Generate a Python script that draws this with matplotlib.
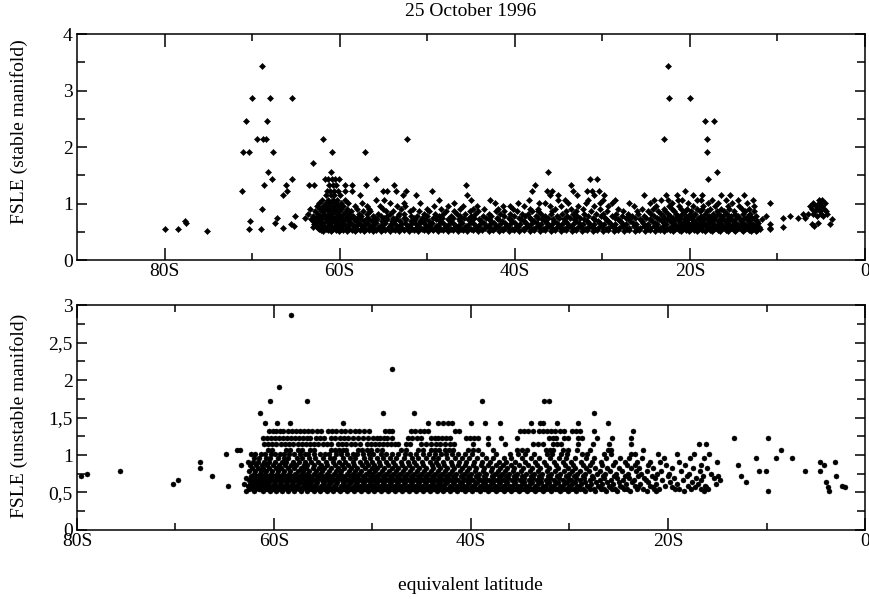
import matplotlib
matplotlib.use("Agg")
import matplotlib.pyplot as plt
from matplotlib.ticker import FixedLocator, FuncFormatter
import numpy as np

plt.rcParams["font.family"] = ["Liberation Serif", "DejaVu Serif"]

# FSLE values are quantised, so each panel is stored as a list of levels and,
# for every level, the equivalent latitudes (deg, negative = south).

# --- top panel: stable manifold ---
stable_levels = [3.44, 2.87, 2.46, 2.15, 1.91, 1.72, 1.56, 1.43, 1.32, 1.23, 1.15, 1.07,
                 1.01, 0.96, 0.91, 0.86, 0.82, 0.78, 0.75, 0.72, 0.69, 0.66, 0.64, 0.61,
                 0.59, 0.57, 0.55, 0.54, 0.52]
stable_lats = [
    [-68.9, -22.5],
    [-70.0, -68.0, -65.5, -22.4, -20.0],
    [-70.7, -68.3, -18.3, -17.2],
    [-69.4, -68.7, -68.4, -61.9, -52.3, -23.0, -18.0],
    [-71.0, -70.4, -67.6, -60.9, -57.1, -18.0],
    [-63.1],
    [-68.2, -61.0, -36.2, -16.9],
    [-67.7, -65.5, -61.7, -61.3, -60.9, -60.5, -60.1, -55.8, -31.4, -30.6, -17.9],
    [-68.6, -66.1, -63.5, -62.9, -61.2, -60.8, -60.4, -59.4, -58.6, -57.0, -53.8, -45.6,
     -37.7, -33.6],
    [-71.2, -66.0, -61.5, -61.1, -60.7, -60.2, -59.4, -58.6, -55.1, -54.6, -53.6, -52.4,
     -49.5, -38.0, -36.3, -35.7, -33.4, -31.8, -31.2, -30.4, -20.6],
    [-66.5, -61.6, -61.0, -60.6, -60.0, -57.7, -52.8, -51.3, -45.4, -36.0, -35.1, -32.9,
     -31.0, -29.8, -25.2, -22.7, -21.5, -19.7, -18.6, -16.4, -15.4, -13.8],
    [-62.0, -61.3, -60.8, -60.3, -59.4, -55.9, -54.9, -48.7, -45.0, -42.8, -38.4, -35.1,
     -34.3, -31.6, -29.9, -28.6, -24.1, -23.3, -22.5, -21.4, -20.9, -19.2, -18.7, -17.5,
     -15.9, -14.5, -12.8, -5.3, -4.9],
    [-62.4, -61.6, -61.1, -60.4, -59.8, -59.0, -57.4, -54.3, -52.6, -50.8, -46.9, -42.3,
     -39.6, -37.2, -36.6, -33.9, -31.9, -30.3, -28.9, -27.0, -24.6, -22.0, -20.2, -17.9,
     -16.8, -15.2, -13.5, -10.9, -5.9, -5.2, -4.6],
    [-62.6, -61.9, -61.4, -60.8, -60.2, -59.6, -58.3, -56.9, -55.4, -53.4, -52.5, -49.2,
     -47.6, -45.9, -44.3, -41.4, -40.6, -38.9, -36.0, -34.7, -32.8, -30.9, -29.4, -26.4,
     -23.9, -22.4, -21.2, -19.6, -18.5, -17.1, -15.7, -14.4, -12.7, -6.3, -5.6, -4.9],
    [-68.9, -63.4, -62.2, -61.7, -61.1, -60.5, -59.9, -59.2, -58.0, -56.6, -55.0, -53.0,
     -51.6, -50.0, -48.4, -46.3, -44.8, -43.5, -41.9, -40.2, -38.3, -37.4, -35.4, -33.6,
     -32.2, -30.3, -28.2, -25.5, -24.2, -23.0, -22.1, -21.0, -20.3, -19.2, -18.6, -17.7,
     -16.4, -15.5, -14.1, -13.2, -6.0, -5.3, -4.7],
    [-62.8, -62.0, -61.3, -60.7, -60.1, -59.3, -58.7, -57.3, -56.5, -54.7, -53.9, -52.0,
     -50.9, -49.8, -47.8, -46.9, -45.1, -44.2, -42.2, -41.2, -39.7, -38.0, -37.3, -35.8,
     -34.2, -33.0, -31.3, -29.5, -27.6, -26.0, -24.8, -23.6, -22.8, -21.8, -20.6, -19.9,
     -18.9, -18.1, -16.9, -16.1, -15.0, -13.7, -12.7, -5.7, -5.1, -4.5],
    [-63.6, -62.5, -61.8, -61.0, -60.3, -59.6, -58.9, -57.8, -56.9, -55.6, -54.2, -53.2,
     -52.6, -50.4, -49.1, -48.2, -46.6, -45.7, -44.5, -43.0, -41.7, -40.6, -39.2, -38.5,
     -37.0, -35.9, -34.6, -33.3, -32.1, -30.7, -29.9, -28.4, -27.1, -25.9, -24.4, -23.3,
     -22.5, -21.6, -20.9, -20.0, -19.4, -18.3, -17.4, -16.7, -15.8, -14.8, -13.9, -13.1,
     -7.1, -6.5, -5.9, -5.0, -4.3],
    [-65.1, -63.0, -62.3, -61.5, -60.9, -60.0, -59.2, -58.5, -57.6, -56.2, -55.3, -54.6,
     -53.3, -51.9, -51.2, -50.0, -48.6, -47.3, -46.2, -45.0, -43.6, -42.7, -41.2, -40.1,
     -38.8, -37.6, -36.6, -35.2, -34.0, -32.9, -31.6, -30.1, -28.9, -27.8, -26.6, -25.2,
     -24.1, -23.1, -22.3, -21.4, -20.4, -19.6, -18.7, -17.8, -17.0, -16.2, -15.3, -14.5,
     -13.4, -12.4, -11.3, -8.6, -5.5, -4.8],
    [-67.1, -64.0, -62.7, -62.0, -61.2, -60.5, -59.7, -58.8, -58.0, -56.9, -56.0, -54.9,
     -53.9, -52.7, -51.5, -50.6, -49.3, -48.3, -47.0, -45.8, -44.7, -43.3, -42.0, -40.7,
     -39.5, -38.3, -37.3, -36.2, -35.0, -33.7, -32.5, -31.1, -29.7, -28.6, -27.3, -26.3,
     -25.0, -23.8, -22.9, -21.9, -21.1, -20.1, -19.1, -18.4, -17.5, -16.5, -15.6, -14.7,
     -13.8, -12.9, -9.4, -7.7, -6.8],
    [-63.3, -62.4, -61.6, -60.9, -60.2, -59.4, -58.4, -57.6, -56.6, -55.7, -54.6, -53.6,
     -52.4, -51.4, -50.2, -49.0, -47.6, -46.4, -45.3, -44.1, -42.9, -41.9, -40.5, -39.3,
     -38.1, -36.9, -35.6, -34.4, -33.2, -32.1, -30.9, -29.6, -28.2, -27.0, -25.7, -24.6,
     -23.5, -22.6, -21.7, -20.7, -19.8, -19.0, -18.1, -17.2, -16.3, -15.4, -14.3, -13.5,
     -12.6, -11.8, -3.8],
    [-77.7, -70.2, -63.1, -62.2, -61.4, -60.6, -59.9, -59.0, -58.1, -57.2, -56.3, -55.2,
     -54.0, -53.1, -51.9, -50.8, -49.8, -48.5, -47.4, -46.2, -45.0, -43.9, -42.7, -41.5,
     -40.3, -39.0, -37.8, -36.6, -35.5, -34.3, -33.0, -31.8, -30.5, -29.3, -28.0, -26.8,
     -25.5, -24.3, -23.2, -22.3, -21.3, -20.5, -19.5, -18.6, -17.7, -16.8, -16.0, -15.1,
     -14.2, -13.2, -12.3],
    [-77.5, -67.4, -62.6, -61.9, -61.1, -60.3, -59.6, -58.7, -57.8, -56.9, -55.9, -54.8,
     -53.8, -52.5, -51.4, -50.4, -49.4, -48.2, -47.1, -46.0, -44.8, -43.5, -42.4, -41.1,
     -40.0, -38.7, -37.5, -36.3, -35.2, -34.0, -32.7, -31.5, -30.3, -29.1, -27.8, -26.5,
     -25.3, -24.0, -22.9, -21.9, -21.0, -20.2, -19.3, -18.4, -17.5, -16.6, -15.8, -14.9,
     -14.0, -13.1, -12.2, -5.4],
    [-65.6, -62.9, -62.1, -61.2, -60.4, -59.7, -58.9, -57.9, -57.1, -56.1, -55.1, -54.1,
     -53.0, -51.9, -50.9, -49.7, -48.6, -47.5, -46.3, -45.2, -44.0, -42.8, -41.7, -40.6,
     -39.4, -38.2, -37.0, -35.8, -34.6, -33.4, -32.2, -31.0, -29.8, -28.5, -27.3, -26.1,
     -24.8, -23.7, -22.7, -21.7, -20.8, -19.9, -19.0, -18.1, -17.3, -16.4, -15.5, -14.6,
     -13.7, -12.8, -10.9, -6.1, -4.0],
    [-65.2, -62.7, -61.8, -61.0, -60.2, -59.3, -58.4, -57.5, -56.5, -55.4, -54.3, -53.4,
     -52.2, -51.1, -50.1, -49.0, -47.9, -46.7, -45.6, -44.4, -43.3, -42.1, -41.0, -39.8,
     -38.6, -37.4, -36.2, -35.0, -33.8, -32.6, -31.4, -30.2, -28.9, -27.7, -26.4, -25.2,
     -24.1, -23.1, -22.1, -21.2, -20.3, -19.4, -18.6, -17.8, -16.9, -16.0, -15.2, -14.3,
     -13.3, -12.4, -5.8],
    [-63.0, -62.2, -61.5, -60.7, -59.9, -59.1, -58.2, -57.3, -56.3, -55.2, -54.2, -53.1,
     -52.0, -50.9, -49.8, -48.8, -47.7, -46.5, -45.4, -44.2, -43.0, -41.9, -40.8, -39.6,
     -38.4, -37.2, -36.0, -34.8, -33.6, -32.4, -31.2, -30.0, -28.7, -27.5, -26.2, -25.0,
     -23.9, -22.9, -21.9, -21.0, -20.0, -19.1, -18.2, -17.4, -16.5, -15.7, -14.8, -13.9,
     -13.0, -12.1, -9.4],
    [-66.5, -62.5, -61.7, -60.9, -60.0, -59.2, -58.3, -57.4, -56.5, -55.6, -54.5, -53.5,
     -52.3, -51.3, -50.2, -49.1, -48.0, -46.9, -45.8, -44.6, -43.4, -42.3, -41.1, -40.0,
     -38.8, -37.7, -36.5, -35.3, -34.1, -32.9, -31.7, -30.5, -29.3, -28.1, -26.9, -25.7,
     -24.5, -23.4, -22.4, -21.5, -20.6, -19.7, -18.8, -17.9, -17.0, -16.2, -15.3, -14.4,
     -13.5, -12.6, -10.8],
    [-80.0, -78.5, -70.4, -69.0, -62.4, -61.6, -60.8, -59.9, -58.9, -58.0, -57.0, -56.0,
     -55.0, -53.9, -52.8, -51.7, -50.6, -49.5, -48.4, -47.3, -46.1, -45.0, -43.8, -42.6,
     -41.5, -40.3, -39.1, -37.9, -36.8, -35.6, -34.4, -33.2, -32.0, -30.8, -29.6, -28.4,
     -27.2, -26.0, -24.8, -23.6, -22.6, -21.7, -20.8, -19.9, -19.0, -18.1, -17.2, -16.4,
     -15.5, -14.6, -13.7, -12.8, -12.0, -10.9],
    [-62.1, -61.3, -60.4, -59.6, -58.6, -57.7, -56.7, -55.8, -54.8, -53.7, -52.6, -51.5,
     -50.4, -49.3, -48.2, -47.1, -45.9, -44.8, -43.7, -42.5, -41.3, -40.1, -38.9, -37.8,
     -36.6, -35.4, -34.2, -33.0, -31.8, -30.6, -29.4, -28.2, -27.0, -25.8, -24.6, -23.4,
     -22.3, -21.3, -20.4, -19.5, -18.6, -17.7, -16.8, -15.9, -15.0, -14.1, -13.2, -12.3],
    [-75.2, -61.9, -61.0, -60.1, -59.2, -58.2, -57.2, -56.2, -55.3, -54.3, -53.2, -52.1,
     -51.0, -49.9, -48.8, -47.6, -46.5, -45.4, -44.2, -43.0, -41.8, -40.7, -39.5, -38.3,
     -37.1, -35.9, -34.7, -33.5, -32.3, -31.1, -29.9, -28.7, -27.5, -26.3, -25.1, -24.0,
     -22.9, -21.9, -21.0, -20.1, -19.2, -18.3, -17.5, -16.6, -15.7, -14.8, -13.9, -13.0,
     -12.4],
]

# --- bottom panel: unstable manifold ---
unstable_levels = [2.87, 2.15, 1.91, 1.72, 1.56, 1.43, 1.32, 1.23, 1.15, 1.07, 1.01, 0.96,
                   0.91, 0.86, 0.82, 0.78, 0.75, 0.72, 0.69, 0.66, 0.64, 0.61, 0.59, 0.57,
                   0.55, 0.54, 0.52]
unstable_lats = [
    [-58.3],
    [-48.0],
    [-59.5],
    [-60.4, -56.7, -38.9, -32.6, -32.1],
    [-61.4, -48.9, -45.8, -27.5],
    [-60.9, -59.7, -58.4, -53.0, -44.4, -43.4, -42.8, -42.3, -41.9, -40.0, -38.6, -37.1,
     -33.9, -33.0, -32.7, -31.3, -29.1, -26.1],
    [-60.5, -60.1, -59.8, -59.4, -59.1, -58.6, -58.2, -57.8, -57.4, -57.0, -56.5, -56.1,
     -55.6, -55.2, -54.5, -54.1, -53.7, -53.2, -52.8, -52.3, -51.8, -51.4, -50.9, -50.4,
     -48.7, -48.3, -48.0, -46.1, -45.7, -45.2, -44.8, -44.4, -41.6, -41.2, -35.0, -34.6,
     -34.2, -33.7, -33.1, -32.7, -32.3, -31.9, -31.5, -31.0, -30.6, -29.7, -29.3, -28.9,
     -27.5, -23.6],
    [-61.1, -60.7, -60.3, -59.9, -59.5, -59.1, -58.7, -58.3, -57.9, -57.5, -57.1, -56.7,
     -56.3, -55.7, -55.3, -54.9, -54.2, -53.8, -53.3, -52.9, -52.5, -52.0, -51.5, -51.0,
     -50.5, -49.9, -49.5, -49.2, -48.8, -48.5, -48.0, -46.4, -46.0, -45.5, -45.1, -44.1,
     -43.7, -43.3, -42.9, -42.5, -42.1, -40.5, -40.1, -39.7, -39.3, -38.3, -37.0, -35.3,
     -32.1, -31.7, -31.4, -30.6, -30.2, -29.1, -28.7, -27.2, -25.7, -23.8, -13.3, -9.8],
    [-61.0, -60.6, -60.2, -59.8, -59.3, -58.9, -58.5, -58.1, -57.6, -57.2, -56.8, -56.3,
     -55.9, -55.5, -55.0, -54.6, -54.2, -53.5, -53.1, -52.7, -52.2, -51.8, -51.3, -50.6,
     -50.2, -49.7, -49.3, -48.9, -48.5, -48.1, -47.7, -47.4, -46.6, -46.2, -45.1, -44.6,
     -44.1, -43.6, -43.1, -42.6, -42.1, -41.7, -39.8, -38.3, -36.5, -33.7, -33.2, -32.7,
     -31.7, -31.3, -30.9, -29.1, -27.6, -26.0, -23.8, -16.9, -16.1],
    [-63.8, -63.5, -60.6, -60.2, -58.8, -58.4, -57.6, -57.2, -56.3, -55.9, -54.2, -53.8,
     -53.4, -53.0, -52.7, -51.5, -51.1, -50.6, -50.2, -49.5, -49.0, -47.1, -46.6, -45.4,
     -44.9, -44.1, -43.7, -43.2, -42.6, -42.2, -41.8, -40.3, -39.8, -39.3, -37.8, -35.3,
     -34.8, -34.3, -32.4, -32.0, -31.7, -30.7, -30.2, -29.2, -27.9, -26.1, -25.8, -22.5,
     -8.5],
    [-64.9, -62.3, -61.9, -61.3, -60.9, -60.3, -59.9, -59.4, -59.0, -58.5, -58.0, -57.4,
     -56.9, -56.5, -55.9, -55.3, -54.8, -54.4, -53.7, -53.2, -52.6, -52.0, -51.6, -51.0,
     -50.4, -49.9, -49.1, -48.6, -48.0, -47.4, -46.7, -46.2, -45.6, -44.9, -44.3, -43.7,
     -43.0, -42.5, -41.9, -41.3, -40.6, -39.9, -38.9, -37.5, -36.0, -35.2, -34.5, -33.6,
     -32.3, -31.8, -30.9, -30.3, -28.7, -28.2, -26.5, -25.8, -23.8, -23.3, -21.0, -19.1,
     -17.4, -15.8],
    [-62.0, -61.5, -60.8, -60.4, -59.6, -59.0, -58.6, -57.7, -57.2, -56.4, -55.8, -55.0,
     -54.3, -53.9, -53.0, -52.3, -51.8, -50.9, -50.3, -49.5, -48.9, -48.2, -47.6, -46.8,
     -46.0, -45.4, -44.6, -43.9, -43.3, -42.4, -41.6, -40.9, -40.2, -39.4, -38.5, -37.8,
     -36.7, -35.9, -34.8, -33.9, -33.1, -32.0, -31.1, -30.4, -29.4, -28.3, -27.5, -26.3,
     -24.9, -24.0, -22.6, -20.4, -17.8, -16.3, -11.1, -9.0, -7.4],
    [-67.5, -62.6, -62.1, -61.6, -61.0, -60.5, -59.9, -59.2, -58.8, -58.1, -57.5, -56.9,
     -56.2, -55.5, -54.7, -54.0, -53.4, -52.8, -52.0, -51.3, -50.7, -50.0, -49.3, -48.6,
     -47.9, -47.1, -46.4, -45.8, -45.0, -44.2, -43.6, -42.8, -42.0, -41.2, -40.5, -39.7,
     -38.9, -38.1, -37.2, -36.4, -35.5, -34.5, -33.5, -32.6, -31.6, -30.7, -29.8, -28.8,
     -27.7, -26.8, -25.4, -24.4, -23.1, -21.8, -20.8, -18.9, -15.0, -4.6, -3.0],
    [-63.3, -62.4, -61.8, -61.2, -60.7, -60.1, -59.5, -58.9, -58.3, -57.8, -57.0, -56.6,
     -55.9, -55.2, -54.6, -53.8, -53.1, -52.5, -51.9, -51.1, -50.5, -49.8, -49.2, -48.4,
     -47.7, -47.0, -46.3, -45.6, -44.9, -44.0, -43.4, -42.7, -41.9, -41.3, -40.6, -39.8,
     -39.0, -38.3, -37.5, -36.8, -35.9, -35.1, -34.2, -33.3, -32.4, -31.4, -30.5, -29.6,
     -28.6, -27.9, -26.7, -25.6, -24.2, -23.4, -22.0, -20.2, -18.3, -16.6, -12.9, -4.2],
    [-67.5, -62.2, -61.6, -61.1, -60.5, -59.8, -59.3, -58.6, -58.0, -57.3, -56.8, -56.0,
     -55.4, -54.9, -54.2, -53.5, -52.9, -52.2, -51.6, -50.8, -50.1, -49.5, -48.8, -48.0,
     -47.4, -46.7, -46.0, -45.3, -44.6, -43.9, -43.1, -42.4, -41.7, -40.9, -40.2, -39.5,
     -38.7, -37.9, -37.1, -36.3, -35.6, -34.7, -33.8, -33.0, -32.1, -31.2, -30.2, -29.4,
     -28.3, -27.4, -26.2, -25.0, -23.8, -22.9, -21.5, -19.6, -17.5, -16.0],
    [-75.6, -62.5, -61.9, -61.3, -60.8, -60.2, -59.6, -59.0, -58.4, -57.6, -57.1, -56.4,
     -55.7, -55.1, -54.4, -53.7, -53.2, -52.4, -51.8, -51.2, -50.4, -49.7, -49.0, -48.3,
     -47.6, -46.9, -46.2, -45.5, -44.8, -44.1, -43.3, -42.6, -41.9, -41.1, -40.4, -39.6,
     -38.8, -38.0, -37.3, -36.5, -35.7, -34.9, -34.0, -33.2, -32.3, -31.5, -30.6, -29.7,
     -28.9, -28.0, -26.9, -25.9, -24.7, -23.2, -22.1, -20.7, -18.7, -16.8, -10.8, -10.1,
     -6.1, -4.6],
    [-79.0, -62.0, -61.4, -60.9, -60.3, -59.7, -59.1, -58.5, -57.9, -57.2, -56.6, -55.9,
     -55.3, -54.6, -53.9, -53.3, -52.6, -52.0, -51.4, -50.7, -50.0, -49.3, -48.6, -47.9,
     -47.2, -46.5, -45.8, -45.1, -44.4, -43.7, -42.9, -42.2, -41.5, -40.7, -40.0, -39.2,
     -38.5, -37.6, -36.9, -36.1, -35.3, -34.4, -33.6, -32.8, -31.9, -31.0, -30.1, -29.2,
     -28.4, -27.2, -26.4, -25.3, -24.1, -22.7, -21.1, -19.9, -17.9, -15.6],
    [-79.6, -66.3, -62.3, -61.7, -61.2, -60.6, -60.0, -59.4, -58.8, -58.2, -57.5, -56.9,
     -56.3, -55.6, -55.0, -54.3, -53.6, -53.0, -52.3, -51.7, -51.0, -50.3, -49.6, -48.9,
     -48.2, -47.5, -46.8, -46.1, -45.4, -44.7, -44.0, -43.2, -42.5, -41.8, -41.0, -40.3,
     -39.5, -38.7, -37.9, -37.2, -36.4, -35.6, -34.8, -33.9, -33.1, -32.2, -31.3, -30.4,
     -29.5, -28.6, -27.7, -26.6, -25.5, -24.4, -23.0, -21.6, -20.0, -18.1, -16.4, -14.9,
     -12.6, -2.9],
    [-62.8, -62.1, -61.5, -60.9, -60.4, -59.8, -59.2, -58.6, -57.9, -57.3, -56.7, -56.1,
     -55.4, -54.7, -54.1, -53.4, -52.8, -52.1, -51.5, -50.8, -50.1, -49.4, -48.7, -48.0,
     -47.3, -46.6, -45.9, -45.2, -44.5, -43.8, -43.0, -42.3, -41.6, -40.8, -40.1, -39.3,
     -38.6, -37.8, -37.0, -36.2, -35.4, -34.6, -33.7, -32.9, -32.0, -31.1, -30.2, -29.3,
     -28.5, -27.6, -26.5, -25.2, -24.0, -22.4, -21.3, -19.4, -17.2, -15.3],
    [-69.7, -62.5, -61.9, -61.3, -60.7, -60.1, -59.5, -58.9, -58.3, -57.7, -57.0, -56.4,
     -55.8, -55.1, -54.5, -53.8, -53.1, -52.5, -51.8, -51.2, -50.5, -49.8, -49.1, -48.4,
     -47.7, -47.0, -46.3, -45.6, -44.9, -44.2, -43.5, -42.7, -42.0, -41.3, -40.5, -39.8,
     -39.0, -38.2, -37.4, -36.6, -35.8, -35.0, -34.1, -33.3, -32.4, -31.6, -30.7, -29.8,
     -28.9, -27.9, -26.9, -25.8, -24.6, -23.5, -22.2, -20.6, -18.5, -16.7, -14.7],
    [-62.2, -61.6, -61.0, -60.5, -59.9, -59.3, -58.7, -58.1, -57.4, -56.8, -56.2, -55.6,
     -54.9, -54.2, -53.6, -52.9, -52.2, -51.6, -50.9, -50.2, -49.5, -48.8, -48.1, -47.4,
     -46.7, -46.0, -45.3, -44.6, -43.9, -43.1, -42.4, -41.7, -40.9, -40.2, -39.4, -38.6,
     -37.8, -37.1, -36.3, -35.5, -34.6, -33.8, -32.9, -32.1, -31.2, -30.3, -29.4, -28.4,
     -27.3, -26.2, -25.0, -23.7, -22.0, -19.8, -17.6, -12.1, -4.0],
    [-70.3, -63.0, -62.4, -61.8, -61.2, -60.6, -60.0, -59.4, -58.8, -58.2, -57.6, -57.0,
     -56.3, -55.7, -55.0, -54.4, -53.7, -53.0, -52.4, -51.7, -51.0, -50.3, -49.6, -48.9,
     -48.2, -47.5, -46.8, -46.1, -45.4, -44.7, -44.0, -43.3, -42.6, -41.8, -41.1, -40.3,
     -39.6, -38.8, -38.0, -37.2, -36.4, -35.6, -34.8, -34.0, -33.2, -32.3, -31.5, -30.6,
     -29.7, -28.8, -27.8, -26.7, -25.6, -24.3, -22.8, -21.2, -19.1, -17.0, -15.1],
    [-64.7, -62.6, -62.0, -61.4, -60.8, -60.2, -59.6, -59.0, -58.4, -57.8, -57.1, -56.5,
     -55.9, -55.2, -54.6, -53.9, -53.2, -52.6, -51.9, -51.3, -50.6, -49.9, -49.2, -48.5,
     -47.8, -47.1, -46.4, -45.7, -45.0, -44.3, -43.6, -42.9, -42.1, -41.4, -40.7, -39.9,
     -39.1, -38.4, -37.6, -36.8, -36.0, -35.2, -34.4, -33.5, -32.7, -31.9, -31.0, -30.1,
     -29.2, -28.2, -27.1, -26.0, -24.9, -23.4, -21.8, -20.3, -18.0, -16.2, -2.3],
    [-62.4, -61.8, -61.2, -60.6, -60.0, -59.5, -58.9, -58.3, -57.6, -57.0, -56.4, -55.7,
     -55.1, -54.4, -53.8, -53.1, -52.4, -51.8, -51.1, -50.4, -49.7, -49.0, -48.3, -47.6,
     -46.9, -46.2, -45.5, -44.8, -44.1, -43.4, -42.7, -42.0, -41.2, -40.5, -39.7, -38.9,
     -38.2, -37.4, -36.6, -35.8, -35.0, -34.2, -33.4, -32.5, -31.7, -30.8, -29.9, -29.0,
     -28.0, -26.9, -25.9, -24.7, -23.0, -21.5, -19.6, -17.3, -16.1, -3.8, -2.0],
    [-62.1, -61.5, -60.9, -60.3, -59.7, -59.1, -58.5, -57.9, -57.3, -56.7, -56.0, -55.4,
     -54.8, -54.1, -53.5, -52.8, -52.1, -51.5, -50.8, -50.1, -49.4, -48.7, -48.0, -47.3,
     -46.6, -45.9, -45.2, -44.5, -43.8, -43.1, -42.3, -41.6, -40.9, -40.1, -39.4, -38.6,
     -37.8, -37.0, -36.2, -35.4, -34.6, -33.8, -33.0, -32.1, -31.3, -30.4, -29.5, -28.6,
     -27.5, -26.5, -25.4, -24.2, -22.5, -20.9, -18.9, -16.6],
    [-62.5, -61.9, -61.4, -60.7, -60.1, -59.5, -58.7, -58.1, -57.5, -56.8, -56.2, -55.5,
     -54.9, -54.3, -53.6, -53.0, -52.3, -51.6, -50.9, -50.2, -49.5, -48.8, -48.1, -47.4,
     -46.7, -46.0, -45.3, -44.6, -43.9, -43.2, -42.5, -41.8, -41.0, -40.3, -39.5, -38.7,
     -38.0, -37.2, -36.4, -35.6, -34.8, -34.0, -33.2, -32.4, -31.5, -30.7, -29.8, -28.9,
     -27.9, -26.8, -25.7, -24.5, -23.1, -21.4, -19.3, -17.7, -15.9],
    [-62.8, -62.0, -61.1, -60.4, -59.8, -59.2, -58.6, -58.0, -57.3, -56.6, -55.9, -55.3,
     -54.6, -54.0, -53.3, -52.6, -51.9, -51.2, -50.5, -49.8, -49.1, -48.4, -47.7, -47.0,
     -46.3, -45.6, -44.9, -44.2, -43.5, -42.8, -42.1, -41.4, -40.6, -39.9, -39.1, -38.3,
     -37.5, -36.7, -35.9, -35.1, -34.3, -33.5, -32.7, -31.9, -31.0, -30.2, -29.3, -28.4,
     -27.4, -26.3, -25.2, -23.9, -22.1, -21.2, -18.4, -16.3, -9.8, -3.7],
]

title = "25 October 1996"
xlabel = "equivalent latitude"
top_ylabel = "FSLE (stable manifold)"
bottom_ylabel = "FSLE (unstable manifold)"
bottom_yticklabels = ["0", "0,5", "1", "1,5", "2", "2,5", "3"]

FS = 14


def expand(levels, rows):
    lat = [x for lv, r in zip(levels, rows) for x in r]
    val = [lv for lv, r in zip(levels, rows) for _ in r]
    return np.array(lat), np.array(val)


def lat_fmt(v, pos):
    v = int(round(v))
    return "0" if v == 0 else f"{-v}S"


def style(ax, xmin, ymax, ymajor, yminor):
    ax.set_xlim(xmin, 0)
    ax.set_ylim(0, ymax)
    ax.xaxis.set_major_locator(FixedLocator([-80, -60, -40, -20, 0]))
    ax.xaxis.set_minor_locator(FixedLocator([-70, -50, -30, -10]))
    ax.xaxis.set_major_formatter(FuncFormatter(lat_fmt))
    ax.yaxis.set_major_locator(FixedLocator(ymajor))
    ax.yaxis.set_minor_locator(FixedLocator(yminor))
    ax.tick_params(which="both", direction="in", top=True, right=True,
                   labelsize=FS, width=1.1)
    ax.tick_params(axis="x", which="major", length=9, pad=2)
    ax.tick_params(axis="x", which="minor", length=5)
    ax.tick_params(axis="y", which="major", length=7, pad=3)
    ax.tick_params(axis="y", which="minor", length=6)
    for s in ax.spines.values():
        s.set_linewidth(1.1)


fig = plt.figure(figsize=(8.69, 5.99), dpi=100)
ax1 = fig.add_axes([0.0886, 0.5659, 0.9068, 0.3773])
ax2 = fig.add_axes([0.0886, 0.1152, 0.9068, 0.3756])

x, y = expand(stable_levels, stable_lats)
ax1.scatter(x, y, marker="D", s=9.5, c="black", linewidths=0.4, edgecolors="black")
style(ax1, -90, 4, [0, 1, 2, 3, 4], [0.5, 1.5, 2.5, 3.5])

x, y = expand(unstable_levels, unstable_lats)
ax2.scatter(x, y, marker="o", s=13, c="black", linewidths=0.3, edgecolors="black")
style(ax2, -80, 3, [0, 0.5, 1, 1.5, 2, 2.5, 3], [0.25, 0.75, 1.25, 1.75, 2.25, 2.75])
ax2.set_yticklabels(bottom_yticklabels)

fig.text(471 / 869, 1 - 12 / 599, title, ha="center", va="center", fontsize=FS)
fig.text(470 / 869, 1 - 586 / 599, xlabel, ha="center", va="center", fontsize=FS)
fig.text(19 / 869, 1 - 132 / 599, top_ylabel, ha="center", va="center",
         rotation=90, fontsize=FS)
fig.text(19 / 869, 1 - 416 / 599, bottom_ylabel, ha="center", va="center",
         rotation=90, fontsize=FS)

fig.savefig("out.png", dpi=100)
